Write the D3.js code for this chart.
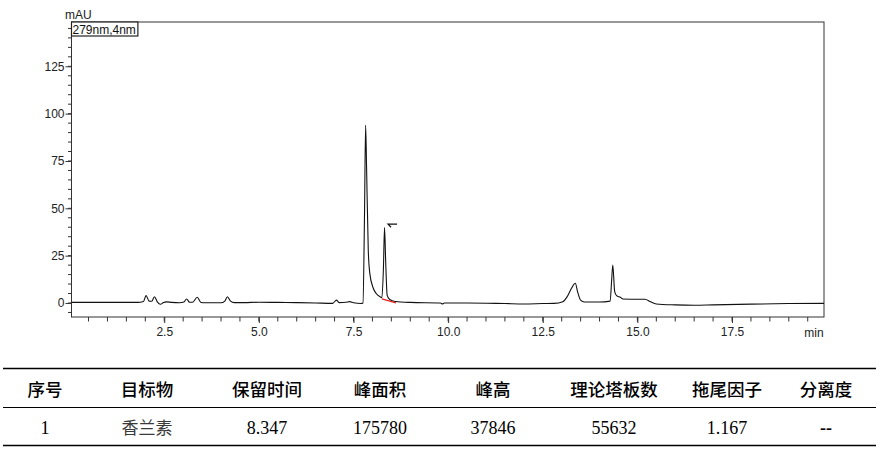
<!DOCTYPE html>
<html><head><meta charset="utf-8">
<script src="https://cdn.jsdelivr.net/npm/d3@7"></script>
<style>
html,body{margin:0;padding:0;background:#fff;}
svg{display:block;}
</style></head>
<body>
<svg id="c" width="886" height="453"></svg>
<script>
// ---- data ----
const timeMin = [0.05,1.0,1.8,1.95,2.02,2.10,2.17,2.24,2.32,2.40,2.48,2.56,2.70,2.90,3.02,3.09,3.17,3.25,3.37,3.47,3.60,4.00,4.10,4.17,4.25,4.35,4.60,5.00,5.50,6.00,6.50,6.95,7.05,7.12,7.30,7.40,7.50,7.70,7.75,7.79,7.82,7.845,7.89,7.93,8.02,8.10,8.20,8.25,8.29,8.32,8.35,8.39,8.45,8.60,9.00,9.80,9.85,9.90,10.5,11.5,12.0,12.5,12.8,13.03,13.15,13.26,13.36,13.42,13.50,13.60,14.00,14.28,14.32,14.35,14.40,14.45,14.55,14.62,15.00,15.20,15.35,15.50,16.0,16.5,17.0,18.0,19.0,19.93];
const signalMAU = [0.3,0.3,0.3,0.8,3.9,1.0,0.9,3.3,0.5,-0.7,0.3,0.6,0.3,0.1,0.5,2.1,0.4,0.4,3.0,0.3,0.1,0.1,1.0,3.3,1.0,0.2,0.2,0.4,0.3,0.2,0.0,-0.2,1.5,0.2,0.4,0.7,0.1,-0.3,0.0,45,94,72,28,15.8,7.9,5.0,3.3,2.8,18,39.8,22,4.0,2.0,0.8,0.3,0.0,-0.5,0.0,0.0,-0.3,-0.5,-0.3,-0.2,0.7,3.5,7.8,10.4,6,1.5,0.5,0.5,1.0,12,20.1,6,3.9,3.0,2.1,2.0,2.0,0.6,-0.5,-1.0,-1.2,-1.0,-0.6,-0.3,-0.2];
const baselineSeg = [[8.25,2.2],[8.62,0.1]];
const peakMark = [8.36,41.6];
const yMajorTicks = [0,25,50,75,100,125];
const xMajorTicks = [2.5,5.0,7.5,10.0,12.5,15.0,17.5];
const legendText = "279nm,4nm";
const yUnit = "mAU", xUnit = "min";
const headers = ["序号","目标物","保留时间","峰面积","峰高","理论塔板数","拖尾因子","分离度"];
const row1 = ["1","香兰素","8.347","175780","37846","55632","1.167","--"];

// ---- layout ----
const svg = d3.select("#c");
const L = 71.5, R = 824, T = 22, B = 317;
const x = d3.scaleLinear().domain([0.05, 19.93]).range([L, R]);
const y = d3.scaleLinear().domain([-7.4, 148.4]).range([B, T]);
const axisColor = "#333";
const sans = "'Liberation Sans', Arial, sans-serif";

// frame
svg.append("rect").attr("x", L).attr("y", T).attr("width", R - L).attr("height", B - T)
  .attr("fill", "none").attr("stroke", axisColor).attr("stroke-width", 1);

// y axis
const yMinor = d3.range(-5, 146, 5);
const yAx = svg.append("g").attr("transform", `translate(${L},0)`);
yAx.selectAll("line.mn").data(yMinor).join("line")
  .attr("x1", -3.5).attr("x2", 0).attr("y1", d => y(d)).attr("y2", d => y(d))
  .attr("stroke", axisColor);
yAx.call(d3.axisLeft(y).tickValues(yMajorTicks).tickSize(6).tickPadding(1).tickFormat(d3.format("d")))
  .call(g => g.select(".domain").remove())
  .call(g => g.selectAll("line").attr("stroke", axisColor))
  .call(g => g.selectAll("text").attr("font-family", sans).attr("font-size", 12).attr("fill", "#222"));

// x axis
const xMinor = d3.range(0.5, 19.9, 0.5);
const xAx = svg.append("g").attr("transform", `translate(0,${B})`);
xAx.selectAll("line.mn").data(xMinor).join("line")
  .attr("x1", d => x(d)).attr("x2", d => x(d)).attr("y1", 0).attr("y2", 4.5)
  .attr("stroke", axisColor);
xAx.call(d3.axisBottom(x).tickValues(xMajorTicks).tickSize(6).tickPadding(4).tickFormat(d3.format(".1f")))
  .call(g => g.select(".domain").remove())
  .call(g => g.selectAll("line").attr("stroke", axisColor))
  .call(g => g.selectAll("text").attr("font-family", sans).attr("font-size", 12).attr("fill", "#222"));

svg.append("text").attr("x", 814).attr("y", 337).attr("text-anchor", "middle")
  .attr("font-family", sans).attr("font-size", 12).attr("fill", "#222").text(xUnit);
svg.append("text").attr("x", 65).attr("y", 19).attr("font-family", sans).attr("font-size", 12).attr("fill", "#222").text(yUnit);

// legend box
const lg = svg.append("g");
const lt = lg.append("text").attr("x", L + 1).attr("y", 33.5).attr("font-family", sans).attr("font-size", 12).attr("fill", "#111").text(legendText);
const bb = lt.node().getBBox();
lg.insert("rect", "text").attr("x", L).attr("y", T).attr("width", bb.width + 3).attr("height", 14)
  .attr("fill", "#fff").attr("stroke", "#222").attr("stroke-width", 1.2);

// trace
const pts = timeMin.map((t, i) => [t, signalMAU[i]]);
const line = d3.line().x(d => x(d[0])).y(d => y(d[1])).curve(d3.curveMonotoneX);
svg.append("path").attr("d", line(pts)).attr("fill", "none").attr("stroke", "#111").attr("stroke-width", 1.1);

// integration baseline
svg.append("path").attr("d", d3.line().x(d => x(d[0])).y(d => y(d[1]))(baselineSeg))
  .attr("fill", "none").attr("stroke", "#e8201a").attr("stroke-width", 1.2);

// peak marker
const mx = x(peakMark[0]), my = y(peakMark[1]);
svg.append("path").attr("d", `M${mx + 11},${my} H${mx + 2} L${mx + 5},${my + 3}`)
  .attr("fill", "none").attr("stroke", "#111").attr("stroke-width", 1.2);

// table
const colX = [45, 147, 267, 380, 493, 614, 727, 826];
const tl = [[368.5, 1.5], [407.5, 1.2], [445.5, 1.5]];
svg.selectAll("line.tb").data(tl).join("line")
  .attr("x1", 3).attr("x2", 876).attr("y1", d => d[0]).attr("y2", d => d[0])
  .attr("stroke", "#000").attr("stroke-width", d => d[1]);
svg.selectAll("text.hd").data(headers).join("text")
  .attr("x", (d, i) => colX[i]).attr("y", 395.5).attr("text-anchor", "middle")
  .attr("font-family", "'Noto Sans CJK SC', sans-serif").attr("font-size", 17.5).attr("font-weight", 500)
  .attr("fill", "#000").text(d => d);
svg.selectAll("text.rw").data(row1).join("text")
  .attr("x", (d, i) => colX[i]).attr("y", 434).attr("text-anchor", "middle")
  .attr("font-family", (d, i) => i === 1 ? "'Noto Sans CJK SC', sans-serif" : "'Liberation Serif', 'Times New Roman', serif")
  .attr("font-weight", (d, i) => i === 7 ? "bold" : "normal")
  .attr("font-size", (d, i) => i === 1 ? 17 : 18)
  .attr("fill", (d, i) => i === 1 ? "#3a3a3a" : "#000").text(d => d);
</script>
</body></html>
